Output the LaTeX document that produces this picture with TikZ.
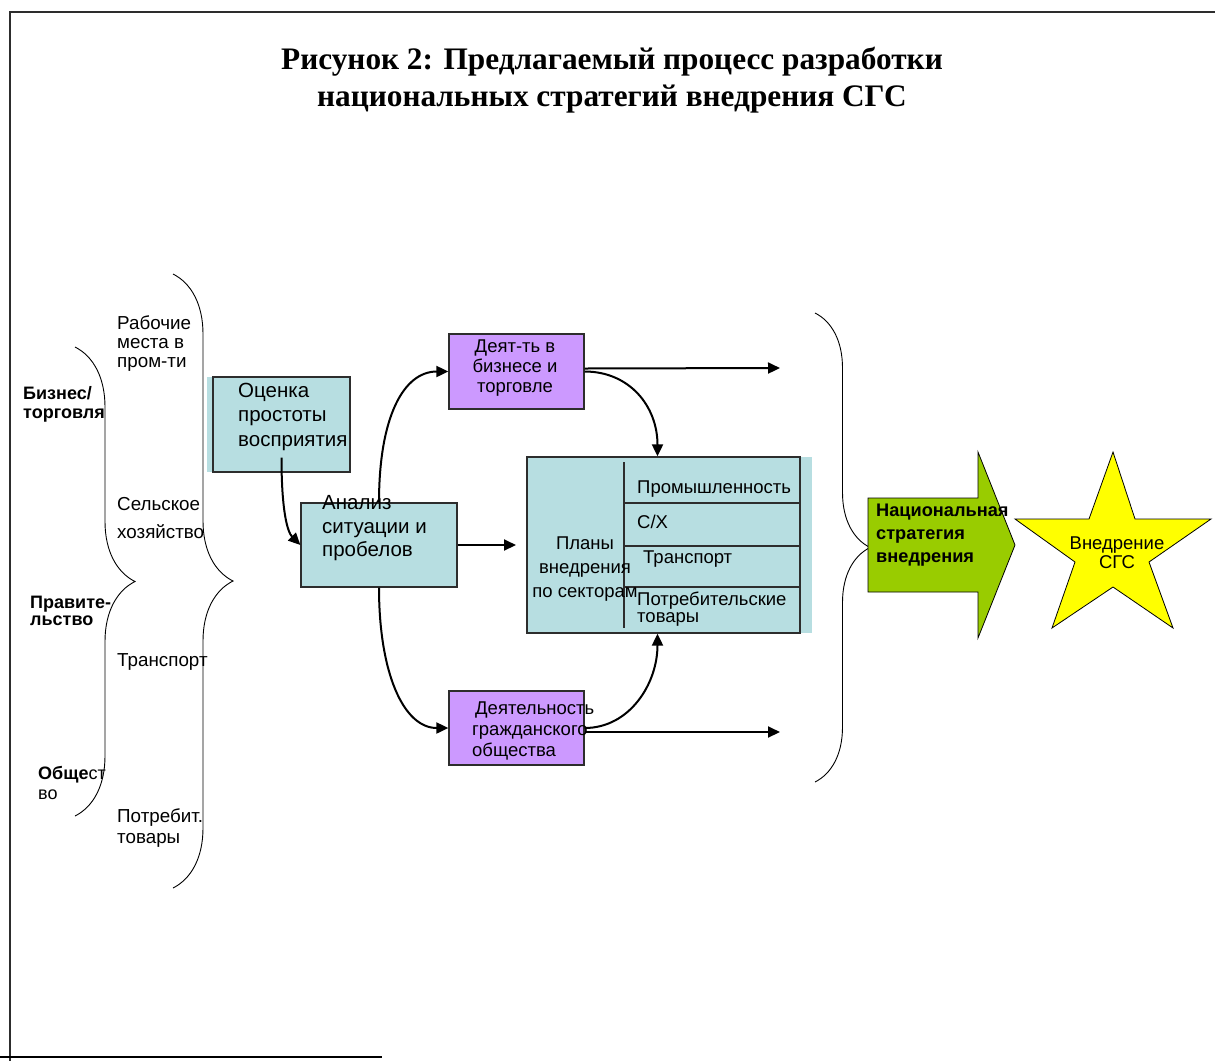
\documentclass[tikz,border=0pt]{standalone}
\usepackage{fontspec}
\setmainfont{Liberation Serif}
\setsansfont{Liberation Sans}
\usetikzlibrary{arrows.meta,decorations.pathreplacing,calc}
\definecolor{boxteal}{RGB}{183,222,225}
\definecolor{boxviolet}{RGB}{204,153,255}
\definecolor{arrowgreen}{RGB}{153,204,0}
\definecolor{staryellow}{RGB}{255,255,0}
\definecolor{edgegray}{RGB}{45,45,45}
\def\sfsize#1#2{\sffamily\fontsize{#1}{#2}\selectfont}

\begin{document}
\begin{tikzpicture}[x=1pt,y=-1pt,
	tealbox/.style={draw=edgegray, fill=boxteal, line width=1.3pt, inner sep=0pt},
	violetbox/.style={draw=edgegray, fill=boxviolet, line width=1.3pt, inner sep=0pt},
	lbl/.style={inner sep=0pt, anchor=west, align=left},
	flow/.style={line width=2pt, -{Triangle[length=12pt,width=11pt]}},
	curly/.style={decorate, decoration={brace, amplitude=#1}, line width=0.9pt}]
			%%%%% START %%%%%
			\useasboundingbox (0,0) rectangle (1215,1061);
			
			\draw[line width=2pt, edgegray] (1215,12) -- (10,12) -- (10,1061);
			\draw[line width=2pt] (0,1057) -- (382,1057);
			
			\node[font=\bfseries\fontsize{31.3}{37}\selectfont, align=center] (title) at (612,80.5) {Рисунок 2: Предлагаемый процесс разработки\\национальных стратегий внедрения СГС};
			
			% braces on the left and right
			\draw[curly=60] (75,347) -- (75,816);
			\draw[curly=60] (173,274) -- (173,888);
			\draw[curly=55] (815,313) -- (815,782);
			
			\node[lbl, font=\sfsize{18.8}{19}] (jobs) at (117,344) {Рабочие\\места в\\пром-ти};
			\node[lbl, font=\sfsize{18.8}{28}] (agri) at (117,518.5) {Сельское\\хозяйство};
			\node[lbl, font=\sfsize{18.8}{19}] (transp) at (117,662) {Транспорт};
			\node[lbl, font=\sfsize{18.8}{21}] (goods) at (117,828.5) {Потребит.\\товары};
			
			\node[lbl, font=\bfseries\sfsize{18}{19.5}] (business) at (23,404.5) {Бизнес/\\торговля};
			\node[lbl, font=\bfseries\sfsize{18}{17}] (govt) at (30,610.5) {Правите-\\льство};
			\node[lbl, font=\bfseries\sfsize{18}{20}] (society) at (38,783) {Обще{\mdseries ст}\\{\mdseries во}};
			
			% boxes
			\fill[boxteal] (207,377) rectangle (350,472);
			\node[tealbox, minimum width=137pt, minimum height=95pt] (assess) at (281.5,424.5) {};
			\node[lbl, font=\sfsize{20.5}{24.5}] (assessT) at (238,416.5) {Оценка\\простоты\\восприятия};
			
			\node[tealbox, minimum width=156pt, minimum height=84pt] (analysis) at (379,545) {};
			\node[lbl, font=\sfsize{20.5}{23.5}] (analysisT) at (322,528.5) {Анализ\\ситуации и\\пробелов};
			
			\node[violetbox, minimum width=135pt, minimum height=75pt] (biz) at (516.5,371.5) {};
			\node[font=\sfsize{18.5}{20}, align=center, inner sep=0pt] (bizT) at (515,368.5) {Деят-ть в\\бизнесе и\\торговле};
			
			\node[violetbox, minimum width=135pt, minimum height=74pt] (civil) at (516.5,728) {};
			\node[lbl, font=\sfsize{18.5}{21}] (civilT) at (472,731) {\hspace*{3pt}Деятельность\\гражданского\\общества};
			
			\fill[boxteal] (527,457) rectangle (812,633);
			\node[tealbox, minimum width=273pt, minimum height=176pt] (plans) at (663.5,545) {};
			\draw[edgegray, line width=1.3pt] (624,462) -- (624,628);
			\foreach \y in {503,546,587}
				\draw[edgegray, line width=1.3pt] (624,\y) -- (plans.east |- 0,\y);
			\node[font=\sfsize{18.5}{24}, align=center, inner sep=0pt] (plansT) at (585,569) {Планы\\внедрения\\по секторам};
			\node[lbl, font=\sfsize{18.5}{19}] (industry) at (637,489) {Промышленность};
			\node[lbl, font=\sfsize{18.5}{19}] (farming) at (637,522) {С/Х};
			\node[lbl, font=\sfsize{18.5}{19}] (transport) at (643,559) {Транспорт};
			\node[lbl, font=\sfsize{18.5}{17}] (consumer) at (637,609.5) {Потребительские\\товары};
			
			% national strategy arrow and star
			\draw[fill=arrowgreen, line width=0.8pt] (868,498) -- (978,498) -- (978,452) -- (1015,545) -- (978,638) -- (978,592) -- (868,592) -- cycle;
			\node[lbl, font=\bfseries\sfsize{18.2}{23}] (strategy) at (876,535.5) {Национальная\\стратегия\\внедрения};
			
			\draw[fill=staryellow, line width=0.8pt] (1113,452) -- (1135,519) -- (1211,519) -- (1149,562) -- (1173,628) -- (1113,587) -- (1052,628) -- (1075,562) -- (1015,519) -- (1089,519) -- cycle;
			\node[font=\sfsize{18.5}{19}, align=center, inner sep=0pt] (rollout) at (1117,553) {Внедрение\\СГС};
			
			% connectors
			\coordinate (plansIn) at (516,545);
			\coordinate (bizOut) at (780,368);
			\coordinate (civilOut) at (780,732);
			
			\draw[flow] ($(assess.south)+(0,-15)$) .. controls +(0,53) and +(-13,-13) .. (analysis.west);
			\draw[flow] (analysis.north) .. controls +(0,-85) and +(-45,0) .. (biz.west);
			\draw[flow] (analysis.south) .. controls +(0,85) and +(-45,0) .. (civil.west);
			\draw[flow] (analysis.east) -- (plansIn);
			\draw[flow] (biz.east) .. controls +(45,0) and +(0,-50) .. ([xshift=-6pt]plans.north);
			\draw[flow] (civil.east) .. controls +(45,0) and +(0,50) .. ([xshift=-6pt]plans.south);
			\draw[flow] ([yshift=3pt]biz.east) -- (bizOut);
			\draw[flow] ([yshift=-4pt]civil.east) -- (civilOut);
			
			%%%%% END %%%%%
\end{tikzpicture}
\end{document}
